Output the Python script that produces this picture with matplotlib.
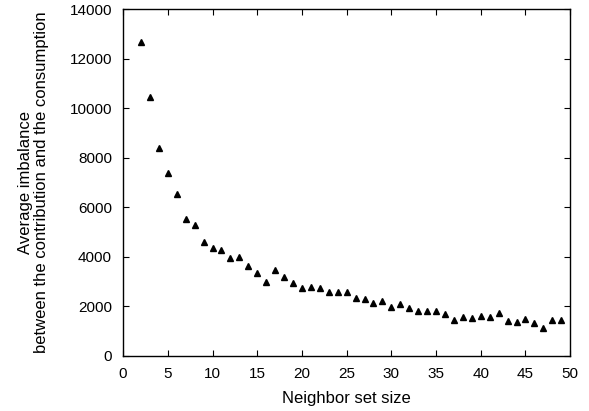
import matplotlib
matplotlib.use('Agg')
import matplotlib.pyplot as plt

plt.rcParams['font.family'] = ['Liberation Sans', 'DejaVu Sans']
plt.rcParams['font.size'] = 11

neighbor_size = list(range(2, 50))
imbalance = [12680, 10440, 8410, 7390, 6550, 5510, 5270, 4590, 4350, 4280,
             3960, 3990, 3610, 3360, 2990, 3480, 3170, 2940, 2750, 2780,
             2740, 2600, 2580, 2600, 2320, 2290, 2120, 2220, 1970, 2090,
             1950, 1830, 1800, 1800, 1690, 1450, 1590, 1520, 1610, 1590,
             1750, 1410, 1360, 1480, 1330, 1120, 1470, 1470]

fig = plt.figure(figsize=(5.89, 4.11), dpi=100)
ax = fig.add_axes([0.209, 0.134, 0.759, 0.844])
ax.plot(neighbor_size, imbalance, linestyle='none', marker='^', color='black',
        markersize=5)

ax.set_xlim(0, 50)
ax.set_ylim(0, 14000)
ax.set_xticks(range(0, 51, 5))
ax.set_yticks(range(0, 14001, 2000))
ax.tick_params(direction='in', top=True, right=True, length=4.5, width=0.8,
               labelsize=11, colors='black', pad=8)
for s in ax.spines.values():
    s.set_linewidth(1.0)

ax.set_xlabel('Neighbor set size', fontsize=12, labelpad=7)
ax.set_ylabel('Average imbalance\nbetween the contribution and the consumption',
              fontsize=12, linespacing=1.05, labelpad=15)

fig.savefig('out.png', dpi=100)
